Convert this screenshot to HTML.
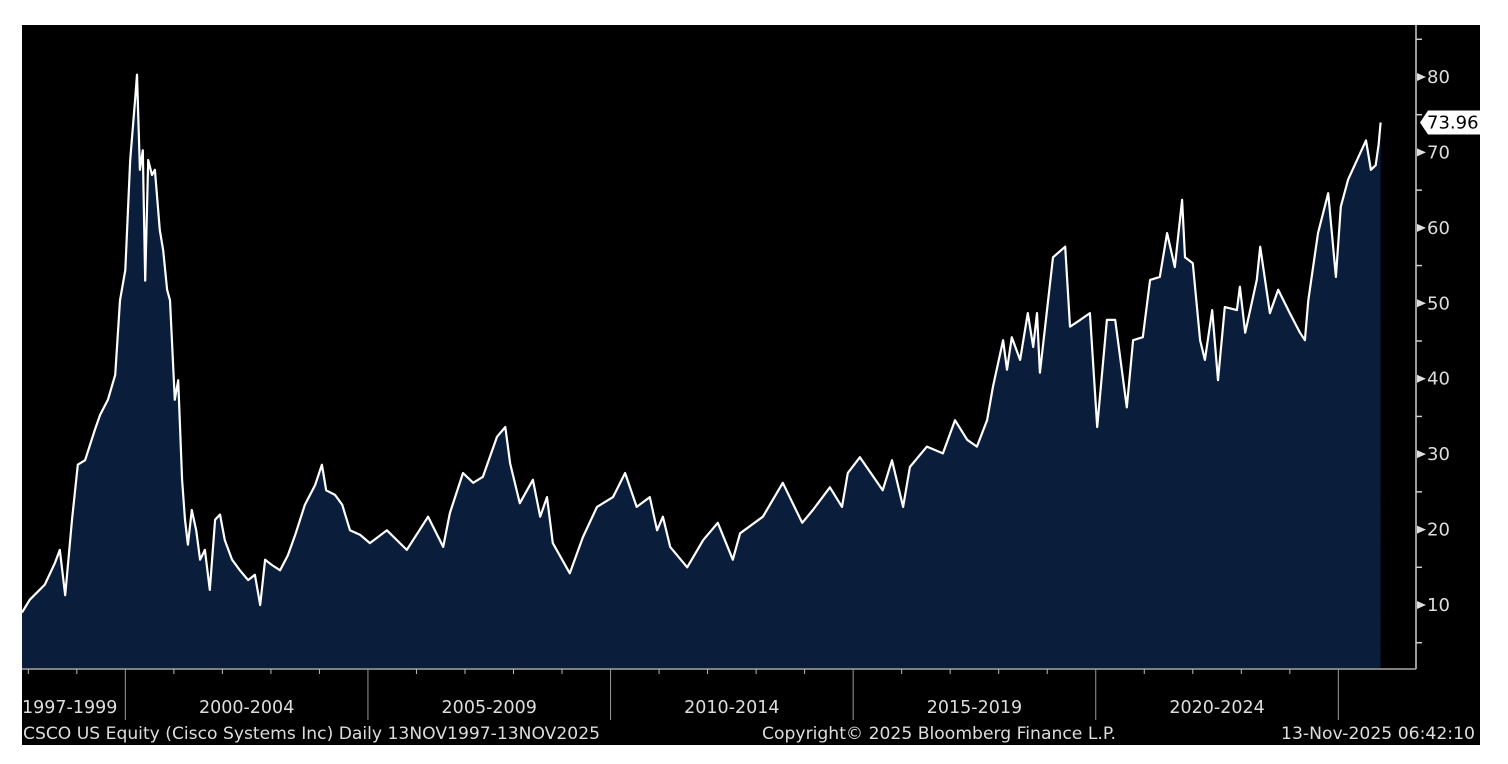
<!DOCTYPE html>
<html><head><meta charset="utf-8"><style>
html,body{margin:0;padding:0;background:#fff;}
svg{display:block;font-family:"DejaVu Sans","Liberation Sans",sans-serif;}
</style></head><body>
<svg id="chart" width="1508" height="764" viewBox="0 0 1508 764">
<rect x="22" y="25" width="1458" height="720" fill="#000"/>
<g id="plot"></g>
<g id="axes"></g>
</svg>
<script>
const times=[1997.87,1998.03,1998.34,1998.55,1998.65,1998.76,1998.90,1999.02,1999.17,1999.37,1999.48,1999.64,1999.79,1999.89,2000.0,2000.10,2000.20,2000.24,2000.30,2000.36,2000.41,2000.47,2000.55,2000.61,2000.71,2000.78,2000.86,2000.92,2001.02,2001.09,2001.17,2001.23,2001.29,2001.37,2001.46,2001.54,2001.64,2001.74,2001.85,2001.95,2002.05,2002.20,2002.36,2002.53,2002.67,2002.78,2002.88,2003.02,2003.19,2003.35,2003.50,2003.70,2003.91,2004.05,2004.14,2004.32,2004.47,2004.63,2004.84,2005.04,2005.39,2005.80,2006.24,2006.55,2006.69,2006.96,2007.17,2007.37,2007.66,2007.83,2007.93,2008.13,2008.40,2008.55,2008.69,2008.81,2009.16,2009.43,2009.72,2010.05,2010.30,2010.54,2010.81,2010.96,2011.08,2011.23,2011.58,2011.91,2012.21,2012.52,2012.67,2013.14,2013.55,2013.95,2014.17,2014.52,2014.77,2014.89,2015.14,2015.61,2015.80,2016.03,2016.17,2016.52,2016.85,2017.10,2017.35,2017.55,2017.76,2017.88,2018.09,2018.17,2018.27,2018.44,2018.60,2018.71,2018.79,2018.85,2019.12,2019.37,2019.47,2019.68,2019.88,2020.03,2020.23,2020.40,2020.64,2020.77,2020.97,2021.12,2021.32,2021.47,2021.63,2021.78,2021.84,2022.00,2022.15,2022.25,2022.40,2022.52,2022.66,2022.91,2022.97,2023.08,2023.32,2023.39,2023.59,2023.76,2024.00,2024.21,2024.31,2024.38,2024.58,2024.79,2024.95,2025.05,2025.20,2025.57,2025.67,2025.77,2025.83,2025.87];
const prices=[9,10.7,12.7,15.6,17.3,11.3,21.3,28.6,29.2,33.2,35.2,37.2,40.5,50.4,54.4,69,77,80.3,67.7,70.3,53,69,67,67.7,59.7,57,51.8,50.4,37.2,39.8,26.6,21.3,18,22.6,19.9,16,17.3,12,21.3,22,18.6,16,14.6,13.3,14,10,16,15.3,14.6,16.6,19.3,23.3,25.9,28.6,25.2,24.6,23.3,19.9,19.3,18.2,19.9,17.3,21.7,17.7,22.2,27.5,26.2,27,32.3,33.6,28.8,23.5,26.6,21.7,24.3,18.2,14.2,19,23,24.3,27.5,23,24.3,19.9,21.7,17.7,15,18.6,20.9,16,19.5,21.7,26.2,20.9,22.6,25.6,23,27.5,29.6,25.2,29.2,23,28.3,31,30.1,34.5,31.9,31,34.5,38.9,45.1,41.2,45.5,42.5,48.7,44.2,48.7,40.8,56.1,57.5,46.9,47.8,48.7,33.6,47.8,47.8,36.2,45.1,45.5,53.1,53.5,59.3,54.8,63.7,56.1,55.3,45.1,42.5,49.1,39.8,49.5,49.1,52.2,46.1,53.1,57.5,48.7,51.8,48.7,46.1,45.1,50.4,59.3,64.6,53.5,62.8,66.4,71.6,67.7,68.3,71,73.96];
const yTicks=[10,20,30,40,50,60,70,80];
const periodLabels=["1997-1999","2000-2004","2005-2009","2010-2014","2015-2019","2020-2024"];
const periodStarts=[1997.87,2000,2005,2010,2015,2020];
const periodEnds=[2000,2005,2010,2015,2020,2025];

const NS="http://www.w3.org/2000/svg";
const X=t=>22+(t-1997.87)*48.52;
const Y=v=>605-(v-10)*7.543;
const plotBottom=668;
function mk(tag,attrs,parent){const e=document.createElementNS(NS,tag);for(const k in attrs)e.setAttribute(k,attrs[k]);parent.appendChild(e);return e;}
const plot=document.getElementById('plot'), axes=document.getElementById('axes');

let pts=times.map((t,i)=>X(t).toFixed(1)+','+Y(prices[i]).toFixed(1));
const area=mk('polygon',{points:X(times[0])+','+plotBottom+' '+pts.join(' ')+' '+X(times[times.length-1])+','+plotBottom,fill:'#0a1e3c'},plot);


const line=mk('polyline',{points:pts.join(' '),fill:'none',stroke:'#fff','stroke-width':2.2,'stroke-linejoin':'round'},plot);



const ya=mk('line',{x1:1416,y1:25,x2:1416,y2:669,stroke:'#ccc','stroke-width':1.5},axes);


for(let v=5;v<=85;v+=5){
  if(v%10===5){const m=mk('line',{x1:1416,y1:Y(v),x2:1422,y2:Y(v),stroke:'#ccc','stroke-width':1.5},axes);
  
  }
}
yTicks.forEach(v=>{
  const tri=mk('polygon',{points:`1417,${Y(v)-4} 1426,${Y(v)} 1417,${Y(v)+4}`,fill:'#ddd'},axes);
  
  
  const tx=mk('text',{x:1427,y:Y(v)+6,fill:'#ddd','font-size':18},axes);
  tx.textContent=v;
  
  
});
const lastV=prices[prices.length-1], ly=Y(lastV);
const tag=mk('polygon',{points:`1420,${ly} 1428,${ly-12} 1480,${ly-12} 1480,${ly+12} 1428,${ly+12}`,fill:'#fff'},axes);


const tt=mk('text',{x:1427,y:ly+6,fill:'#000','font-size':18},axes);
tt.textContent=lastV.toFixed(2);



const xa=mk('line',{x1:22,y1:669,x2:1416,y2:669,stroke:'#aaa','stroke-width':1.5},axes);


for(let yr=1998;yr<=2025;yr++){
  const x=X(yr);
  if(yr%5===0){const s=mk('line',{x1:x,y1:669,x2:x,y2:720,stroke:'#999','stroke-width':1},axes);
  
  }
  else{const t=mk('line',{x1:x,y1:669,x2:x,y2:674,stroke:'#bbb','stroke-width':1},axes);
  
  }
}
periodLabels.forEach((lab,i)=>{
  const first=i===0;
  const cx=first?22:(X(periodStarts[i])+X(periodEnds[i]))/2;
  const t=mk('text',{x:cx,y:713,fill:'#ddd','font-size':17.5,'text-anchor':first?'start':'middle'},axes);
  t.textContent=lab;
  
  
});
const f1=mk('text',{x:23,y:739,fill:'#ddd','font-size':17,'textLength':577,'lengthAdjust':'spacingAndGlyphs'},axes);
f1.textContent='CSCO US Equity (Cisco Systems Inc) Daily 13NOV1997-13NOV2025';


const f2=mk('text',{x:762,y:739,fill:'#ddd','font-size':17,'textLength':354,'lengthAdjust':'spacingAndGlyphs'},axes);
f2.textContent='Copyright© 2025 Bloomberg Finance L.P.';


const f3=mk('text',{x:1281,y:739,fill:'#ddd','font-size':17,'textLength':194,'lengthAdjust':'spacingAndGlyphs'},axes);
f3.textContent='13-Nov-2025 06:42:10';


</script>
</body></html>
